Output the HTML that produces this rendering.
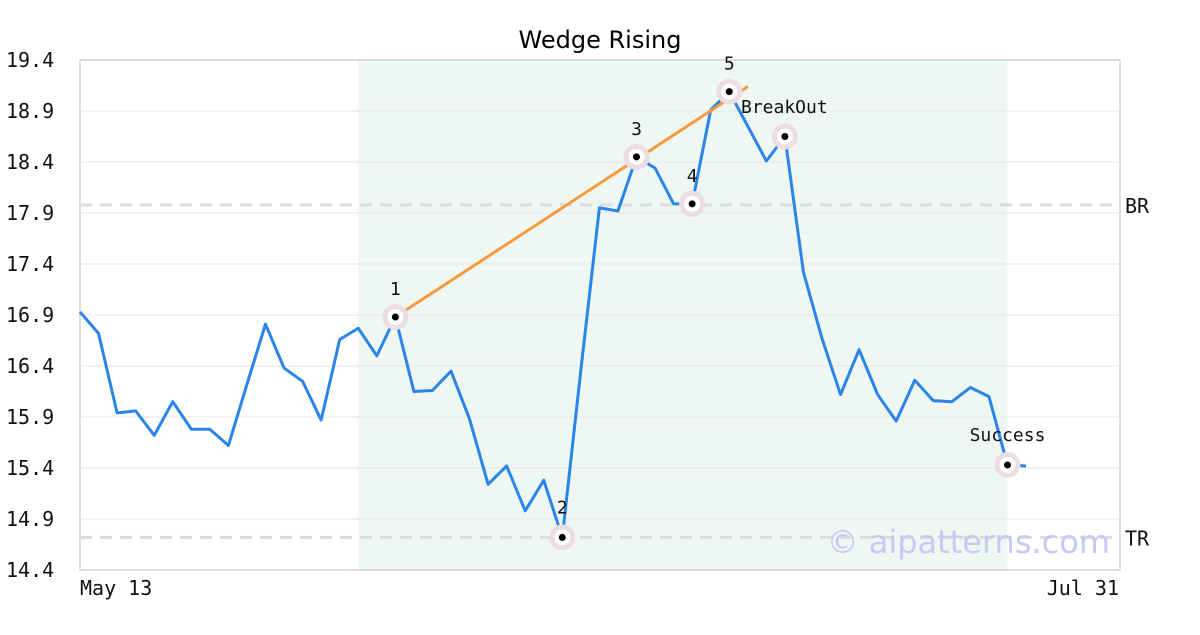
<!DOCTYPE html>
<html><head><meta charset="utf-8"><style>
body{margin:0;background:#fff;width:1200px;height:630px;overflow:hidden}
svg text{font-family:"DejaVu Sans Mono","Liberation Mono",monospace}
</style></head><body>
<svg id="chart" width="1200" height="630">
<text x="600" y="48" text-anchor="middle" font-size="24" style="font-family:'DejaVu Sans','Liberation Sans',sans-serif">Wedge Rising</text>
<g id="g"></g>
</svg>
<script>
const values=[16.93,16.72,15.94,15.96,15.72,16.05,15.78,15.78,15.62,16.22,16.81,16.38,16.25,15.87,16.66,16.77,16.50,16.88,16.15,16.16,16.35,15.88,15.24,15.42,14.98,15.28,14.72,16.36,17.95,17.92,18.45,18.34,17.99,17.99,18.91,19.09,18.75,18.41,18.65,17.32,16.67,16.12,16.56,16.12,15.86,16.26,16.06,16.05,16.19,16.10,15.43,15.42];
const yTicks=[14.4,14.9,15.4,15.9,16.4,16.9,17.4,17.9,18.4,18.9,19.4];
const xLabels=["May 13","Jul 31"];
const pivotIdx=[17,26,30,33,35,38,50];
const pivotLabels=["1","2","3","4","5","BreakOut","Success"];
const levels=[17.98,14.72];
const levelLabels=["BR","TR"];
const shadeRange=[15,50];
const trendLine=[[17,16.88],[36,19.14]];
const L=80,R=1120,T=60,B=570,STEP=18.55;
const x=i=>L+i*STEP, y=v=>B-(v-14.4)/5*(B-T);
const NS="http://www.w3.org/2000/svg",g=document.getElementById('g');
function mk(t,a,txt){const e=document.createElementNS(NS,t);for(const k in a)e.setAttribute(k,a[k]);if(txt!=null)e.textContent=txt;g.appendChild(e);return e;}
let e;
e=mk('rect',{x:x(shadeRange[0]),y:T,width:x(shadeRange[1])-x(shadeRange[0]),height:B-T,fill:'#eff7f3'});


yTicks.forEach(t=>{
 e=mk('line',{x1:L,x2:R,y1:y(t),y2:y(t),stroke:'#e6e6e6','stroke-width':1});
 
 
 e=mk('text',{x:6,y:y(t)+7,'font-size':20,fill:'#111'},t.toFixed(1));
 
 
});
levels.forEach((v,i)=>{
 e=mk('line',{x1:L,x2:R,y1:y(v),y2:y(v),stroke:'#dcdcdc','stroke-width':3,'stroke-dasharray':'12,8'});
 
 
 e=mk('text',{x:1125,y:y(v)+8,'font-size':20,fill:'#111'},levelLabels[i]);
 
 
});
e=mk('rect',{x:L,y:T,width:R-L,height:B-T,fill:'none',stroke:'#ddd','stroke-width':2});


e=mk('text',{x:1110,y:553,'font-size':32,fill:'#c8c8f5','text-anchor':'end',style:"font-family:'DejaVu Sans',sans-serif"},'© aipatterns.com');


e=mk('polyline',{points:values.map((v,i)=>x(i)+','+y(v)).join(' '),fill:'none',stroke:'#2b84e8','stroke-width':3,'stroke-linejoin':'round'});


e=mk('line',{x1:x(trendLine[0][0]),y1:y(trendLine[0][1]),x2:x(trendLine[1][0]),y2:y(trendLine[1][1]),stroke:'#f79a3e','stroke-width':3});


pivotIdx.forEach((i,k)=>{
 const cx=x(i),cy=y(values[i]);
 e=mk('circle',{cx:cx,cy:cy,r:13,fill:'#ecdde3'});
 
 
 mk('circle',{cx:cx,cy:cy,r:8,fill:'#fff'});
 mk('circle',{cx:cx,cy:cy,r:3.5,fill:'#000'});
 let lx=cx,ly=cy-22,anc='middle';
 if(pivotLabels[k]==='BreakOut'){lx=741;ly=113;anc='start';}
 if(pivotLabels[k]==='Success'){ly=cy-24;}
 if(pivotLabels[k]==='2'){ly=cy-24;}
 e=mk('text',{x:lx,y:ly,'font-size':18,fill:'#111','text-anchor':anc},pivotLabels[k]);
 
 
});
e=mk('text',{x:80,y:595,'font-size':20,fill:'#111'},xLabels[0]);


e=mk('text',{x:1119,y:595,'font-size':20,fill:'#111','text-anchor':'end'},xLabels[1]);


</script>
</body></html>
